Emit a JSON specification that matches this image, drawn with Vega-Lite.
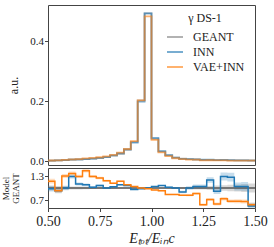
{
  "$schema": "https://vega.github.io/schema/vega-lite/v6.json",
  "padding": {"left": 1, "top": 4, "right": 5, "bottom": 0},
  "spacing": 3,
  "bounds": "flush",
  "background": "white",
  "datasets": {
    "bins": [
      {"x":0.5,"GEANT":0.0015,"INN":0.00147,"VAE+INN":0.00176,"rg":1,"ri":0.98,"rv":1.17,"gl":0.94,"gh":1.06,"il":0.91,"ih":1.05,"vl":1.11,"vh":1.23},
      {"x":0.5333,"GEANT":0.002,"INN":0.00186,"VAE+INN":0.00186,"rg":1,"ri":0.93,"rv":0.93,"gl":0.95,"gh":1.05,"il":0.87,"ih":0.99,"vl":0.88,"vh":0.98},
      {"x":0.5667,"GEANT":0.003,"INN":0.003,"VAE+INN":0.0039,"rg":1,"ri":1.0,"rv":1.3,"gl":0.955,"gh":1.045,"il":0.945,"ih":1.055,"vl":1.25,"vh":1.35},
      {"x":0.6,"GEANT":0.004,"INN":0.00516,"VAE+INN":0.00544,"rg":1,"ri":1.29,"rv":1.36,"gl":0.96,"gh":1.04,"il":1.24,"ih":1.34,"vl":1.31,"vh":1.41},
      {"x":0.6333,"GEANT":0.005,"INN":0.0055,"VAE+INN":0.00645,"rg":1,"ri":1.1,"rv":1.29,"gl":0.965,"gh":1.035,"il":1.06,"ih":1.14,"vl":1.25,"vh":1.33},
      {"x":0.6667,"GEANT":0.006,"INN":0.00648,"VAE+INN":0.00858,"rg":1,"ri":1.08,"rv":1.43,"gl":0.97,"gh":1.03,"il":1.045,"ih":1.115,"vl":1.39,"vh":1.47},
      {"x":0.7,"GEANT":0.008,"INN":0.00816,"VAE+INN":0.01032,"rg":1,"ri":1.02,"rv":1.29,"gl":0.972,"gh":1.028,"il":0.99,"ih":1.05,"vl":1.255,"vh":1.325},
      {"x":0.7333,"GEANT":0.01,"INN":0.0106,"VAE+INN":0.0125,"rg":1,"ri":1.06,"rv":1.25,"gl":0.975,"gh":1.025,"il":1.03,"ih":1.09,"vl":1.22,"vh":1.28},
      {"x":0.7667,"GEANT":0.013,"INN":0.013,"VAE+INN":0.01534,"rg":1,"ri":1.0,"rv":1.18,"gl":0.98,"gh":1.02,"il":0.975,"ih":1.025,"vl":1.155,"vh":1.205},
      {"x":0.8,"GEANT":0.018,"INN":0.01854,"VAE+INN":0.02016,"rg":1,"ri":1.03,"rv":1.12,"gl":0.982,"gh":1.018,"il":1.01,"ih":1.05,"vl":1.1,"vh":1.14},
      {"x":0.8333,"GEANT":0.024,"INN":0.02592,"VAE+INN":0.02808,"rg":1,"ri":1.08,"rv":1.17,"gl":0.985,"gh":1.015,"il":1.062,"ih":1.098,"vl":1.152,"vh":1.188},
      {"x":0.8667,"GEANT":0.037,"INN":0.03922,"VAE+INN":0.03996,"rg":1,"ri":1.06,"rv":1.08,"gl":0.988,"gh":1.012,"il":1.045,"ih":1.075,"vl":1.065,"vh":1.095},
      {"x":0.9,"GEANT":0.064,"INN":0.06144,"VAE+INN":0.06656,"rg":1,"ri":0.96,"rv":1.04,"gl":0.99,"gh":1.01,"il":0.948,"ih":0.972,"vl":1.028,"vh":1.052},
      {"x":0.9333,"GEANT":0.202,"INN":0.198,"VAE+INN":0.202,"rg":1,"ri":0.98,"rv":1.0,"gl":0.995,"gh":1.005,"il":0.974,"ih":0.986,"vl":0.994,"vh":1.006},
      {"x":0.9667,"GEANT":0.492,"INN":0.492,"VAE+INN":0.482,"rg":1,"ri":1.0,"rv":0.98,"gl":0.997,"gh":1.003,"il":0.996,"ih":1.004,"vl":0.976,"vh":0.984},
      {"x":1.0,"GEANT":0.074,"INN":0.07696,"VAE+INN":0.0703,"rg":1,"ri":1.04,"rv":0.95,"gl":0.992,"gh":1.008,"il":1.03,"ih":1.05,"vl":0.94,"vh":0.96},
      {"x":1.0333,"GEANT":0.031,"INN":0.03286,"VAE+INN":0.02883,"rg":1,"ri":1.06,"rv":0.93,"gl":0.988,"gh":1.012,"il":1.045,"ih":1.075,"vl":0.918,"vh":0.942},
      {"x":1.0667,"GEANT":0.019,"INN":0.01938,"VAE+INN":0.01596,"rg":1,"ri":1.02,"rv":0.84,"gl":0.985,"gh":1.015,"il":1.002,"ih":1.038,"vl":0.825,"vh":0.855},
      {"x":1.1,"GEANT":0.011,"INN":0.011,"VAE+INN":0.00924,"rg":1,"ri":1.0,"rv":0.84,"gl":0.98,"gh":1.02,"il":0.976,"ih":1.024,"vl":0.822,"vh":0.858},
      {"x":1.1333,"GEANT":0.008,"INN":0.0072,"VAE+INN":0.00656,"rg":1,"ri":0.9,"rv":0.82,"gl":0.975,"gh":1.025,"il":0.87,"ih":0.93,"vl":0.8,"vh":0.84},
      {"x":1.1667,"GEANT":0.006,"INN":0.006,"VAE+INN":0.00492,"rg":1,"ri":1.0,"rv":0.82,"gl":0.97,"gh":1.03,"il":0.964,"ih":1.036,"vl":0.795,"vh":0.845},
      {"x":1.2,"GEANT":0.005,"INN":0.0052,"VAE+INN":0.0043,"rg":1,"ri":1.04,"rv":0.86,"gl":0.965,"gh":1.035,"il":0.995,"ih":1.085,"vl":0.83,"vh":0.89},
      {"x":1.2333,"GEANT":0.004,"INN":0.00416,"VAE+INN":0.00232,"rg":1,"ri":1.04,"rv":0.58,"gl":0.96,"gh":1.04,"il":0.99,"ih":1.09,"vl":0.55,"vh":0.61},
      {"x":1.2667,"GEANT":0.0035,"INN":0.0042,"VAE+INN":0.002485,"rg":1,"ri":1.2,"rv":0.71,"gl":0.95,"gh":1.05,"il":1.13,"ih":1.27,"vl":0.675,"vh":0.745},
      {"x":1.3,"GEANT":0.003,"INN":0.00276,"VAE+INN":0.0018,"rg":1,"ri":0.92,"rv":0.6,"gl":0.94,"gh":1.06,"il":0.85,"ih":0.99,"vl":0.565,"vh":0.635},
      {"x":1.3333,"GEANT":0.0027,"INN":0.003483,"VAE+INN":0.001971,"rg":1,"ri":1.29,"rv":0.73,"gl":0.93,"gh":1.07,"il":1.19,"ih":1.39,"vl":0.685,"vh":0.775},
      {"x":1.3667,"GEANT":0.0024,"INN":0.003048,"VAE+INN":0.001608,"rg":1,"ri":1.27,"rv":0.67,"gl":0.92,"gh":1.08,"il":1.16,"ih":1.38,"vl":0.625,"vh":0.715},
      {"x":1.4,"GEANT":0.0022,"INN":0.002288,"VAE+INN":0.001474,"rg":1,"ri":1.04,"rv":0.67,"gl":0.91,"gh":1.09,"il":0.94,"ih":1.14,"vl":0.62,"vh":0.72},
      {"x":1.4333,"GEANT":0.002,"INN":0.00208,"VAE+INN":0.00132,"rg":1,"ri":1.04,"rv":0.66,"gl":0.9,"gh":1.1,"il":0.93,"ih":1.15,"vl":0.61,"vh":0.71},
      {"x":1.4667,"GEANT":0.0018,"INN":0.00099,"VAE+INN":0.001044,"rg":1,"ri":0.55,"rv":0.58,"gl":0.89,"gh":1.11,"il":0.47,"ih":0.63,"vl":0.53,"vh":0.63},
      {"x":1.5,"GEANT":0.0018,"INN":0.00099,"VAE+INN":0.001044,"rg":1,"ri":0.55,"rv":0.58,"gl":0.89,"gh":1.11,"il":0.47,"ih":0.63,"vl":0.53,"vh":0.63}
    ],
    "refs": [{"ref": 0.7}, {"ref": 1.3}]
  },
  "config": {
    "font": "Liberation Serif",
    "view": {"stroke": "#444", "strokeWidth": 1},
    "axis": {
      "labelFont": "Liberation Serif",
      "titleFont": "Liberation Serif",
      "labelColor": "#222",
      "titleColor": "#222",
      "titleFontWeight": "normal",
      "tickColor": "#444",
      "tickSize": 3.5,
      "domain": false,
      "grid": false
    }
  },
  "vconcat": [
    {
      "width": 207,
      "height": 160,
      "data": {"name": "bins"},
      "transform": [{"fold": ["GEANT", "INN", "VAE+INN"], "as": ["series", "val"]}],
      "mark": {"type": "line", "interpolate": "step-after", "strokeWidth": 1.8, "opacity": 0.6, "clip": true},
      "encoding": {
        "x": {"field": "x", "type": "quantitative", "scale": {"domain": [0.5, 1.5], "nice": false, "zero": false}, "axis": null},
        "y": {"field": "val", "type": "quantitative", "scale": {"domain": [-0.0133, 0.52], "nice": false, "zero": false},
              "axis": {"title": "a.u.", "values": [0, 0.2, 0.4], "format": ".1f", "labelFontSize": 11, "titleFontSize": 12, "labelPadding": 1, "minExtent": 24, "maxExtent": 24, "titlePadding": 3.5}},
        "color": {"field": "series", "type": "nominal",
                  "scale": {"domain": ["GEANT", "INN", "VAE+INN"], "range": ["#7f7f7f", "#1f77b4", "#ff7f0e"]},
                  "legend": {"orient": "none", "legendX": 118, "legendY": 8, "title": "γ DS-1", "titleFont": "Liberation Serif", "titleFontSize": 12, "titleFontWeight": "normal", "titleColor": "#222", "titleAnchor": "middle", "titlePadding": 3, "symbolType": "stroke", "symbolSize": 256, "symbolStrokeWidth": 2, "symbolOpacity": 0.6, "labelFont": "Liberation Serif", "labelFontSize": 12, "labelColor": "#222", "labelOffset": 9, "rowPadding": 0, "padding": 0}}
      }
    },
    {
      "width": 207,
      "height": 40,
      "data": {"name": "bins"},
      "encoding": {
        "x": {"field": "x", "type": "quantitative", "scale": {"domain": [0.5, 1.5], "nice": false, "zero": false},
              "axis": {"title": "Eₜₒₜ/Eᵢₙc", "values": [0.5, 0.75, 1.0, 1.25, 1.5], "format": ".2f", "labelFontSize": 14, "titleFontSize": 14, "titleFontStyle": "italic", "labelFlush": false, "labelPadding": 2.5, "titlePadding": 3}}
      },
      "layer": [
        {"mark": {"type": "area", "interpolate": "step-after", "color": "#7f7f7f", "opacity": 0.3, "clip": true},
         "encoding": {"y": {"field": "gl", "type": "quantitative", "scale": {"domain": [0.5, 1.5], "nice": false, "zero": false},
                            "axis": {"title": ["Model", "GEANT"], "values": [0.7, 1.0, 1.3], "format": ".1f", "labelFontSize": 11, "titleFontSize": 9, "titleLineHeight": 9.5, "labelPadding": 1, "minExtent": 24, "maxExtent": 24, "titlePadding": 3.7}},
                      "y2": {"field": "gh"}}},
        {"mark": {"type": "area", "interpolate": "step-after", "color": "#1f77b4", "opacity": 0.25, "clip": true},
         "encoding": {"y": {"field": "il", "type": "quantitative"}, "y2": {"field": "ih"}}},
        {"mark": {"type": "area", "interpolate": "step-after", "color": "#ff7f0e", "opacity": 0.25, "clip": true},
         "encoding": {"y": {"field": "vl", "type": "quantitative"}, "y2": {"field": "vh"}}},
        {"data": {"name": "refs"},
         "mark": {"type": "rule", "color": "#888", "strokeDash": [1.5, 1.5], "strokeWidth": 1},
         "encoding": {"y": {"field": "ref", "type": "quantitative"}, "x": {"datum": 0.5}, "x2": {"datum": 1.5}}},
        {"mark": {"type": "line", "interpolate": "step-after", "color": "#555", "strokeWidth": 1.5, "clip": true},
         "encoding": {"y": {"field": "rg", "type": "quantitative"}}},
        {"mark": {"type": "line", "interpolate": "step-after", "color": "#1f77b4", "strokeWidth": 1.5, "clip": true},
         "encoding": {"y": {"field": "ri", "type": "quantitative"}}},
        {"mark": {"type": "line", "interpolate": "step-after", "color": "#ff7f0e", "strokeWidth": 1.5, "clip": true},
         "encoding": {"y": {"field": "rv", "type": "quantitative"}}}
      ]
    }
  ]
}
